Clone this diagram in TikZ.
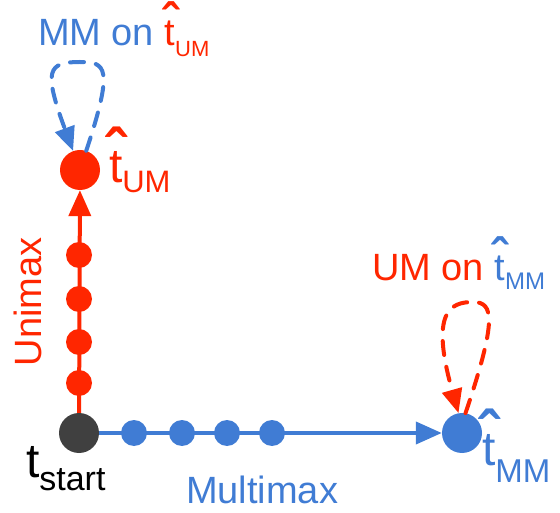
\documentclass[tikz,border=0pt]{standalone}
\usepackage{fontspec}
\setmainfont{Liberation Sans}
\usetikzlibrary{arrows.meta}
\definecolor{umred}{RGB}{255,38,0}
\definecolor{mmblue}{RGB}{64,124,212}
\definecolor{startgray}{RGB}{64,64,64}
\newcommand{\fsz}[1]{\fontsize{#1}{#1}\selectfont}
% t with a raised, enlarged circumflex set above it
\newcommand{\hatt}{\makebox[0pt][l]{\hspace{-0.07em}\raisebox{0.2em}{\scalebox{1.3}{\bfseries\char"02C6}}}t}
\tikzset{
  bigdot/.style={circle, inner sep=0pt, minimum size=40pt},
  smalldot/.style={circle, inner sep=0pt, minimum size=26pt},
  pathline/.style={line width=4pt, -{Triangle[length=26pt,width=22pt]}},
  looparrow/.style={line width=4pt, line cap=round, dash pattern=on 14pt off 12pt,
    -{Triangle[length=24pt,width=20pt]}},
  lbl/.style={inner sep=0pt, outer sep=0pt},
}
\begin{document}
\begin{tikzpicture}[x=1pt,y=1pt]
\useasboundingbox (0,0) rectangle (560,512);

% main states
\node[bigdot, fill=startgray] (start) at (79,79) {};
\node[bigdot, fill=umred] (um) at (80,342) {};
\node[bigdot, fill=mmblue] (mm) at (462,79) {};

% the two ascent paths
\draw[pathline, umred] (start) -- (um);
\draw[pathline, mmblue] (start) -- (mm);

% intermediate iterates
\foreach \n/\y in {1/129,2/170,3/213,4/257}
  \node[smalldot, fill=umred] (u\n) at (79,\y) {};
\foreach \n/\x in {1/134,2/182,3/227,4/272}
  \node[smalldot, fill=mmblue] (m\n) at (\x,79) {};

% cross-evaluation loops
\draw[looparrow, mmblue] (um.72) .. controls (114,445) and (106,450) .. (80,450)
  .. controls (48,450) and (43,442) .. (um.110);
\draw[looparrow, umred] (mm.80) .. controls (497,192) and (494,210) .. (473,210)
  .. controls (450,210) and (430,200) .. (mm.100);

% labels
\node[lbl, anchor=base west, text=mmblue] (lmm) at (38,466)
  {\fsz{38}MM on \textcolor{umred}{\hatt\raisebox{-11pt}{\fsz{22}UM}}};
\node[lbl, anchor=base west, text=umred] (lum) at (372,231)
  {\fsz{38}UM on \textcolor{mmblue}{\hatt\raisebox{-9pt}{\fsz{24}MM}}};
\node[lbl, anchor=base west, text=umred] (tum) at (109,329)
  {\fsz{48}\hatt\raisebox{-10pt}{\fsz{31}UM}};
\node[lbl, anchor=base west, text=mmblue] (tmm) at (482,47)
  {\fsz{48}\hatt\raisebox{-17pt}{\fsz{33}MM}};
\node[lbl, anchor=base west, text=black] (tst) at (26,35)
  {\fsz{48}t\raisebox{-13pt}{\fsz{34}start}};
\node[lbl, anchor=base west, text=mmblue] (lmulti) at (186,9) {\fsz{38}Multimax};
\node[lbl, anchor=base, rotate=90, text=umred] (luni) at (42,210) {\fsz{38}Unimax};
\end{tikzpicture}
\end{document}
